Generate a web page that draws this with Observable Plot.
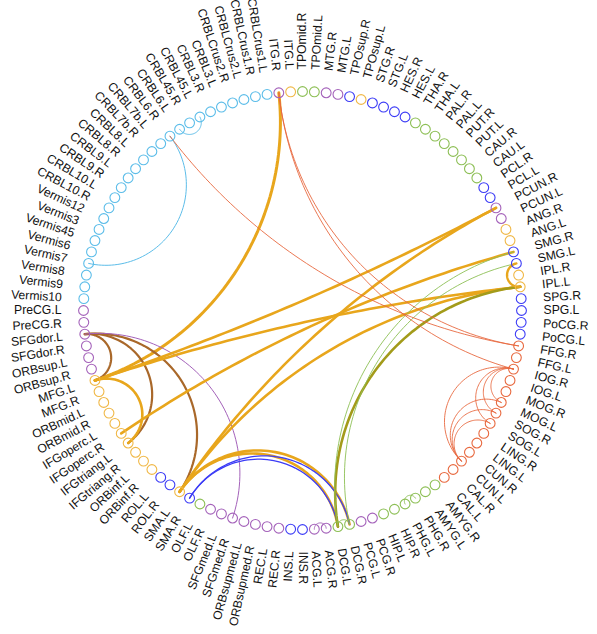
<!DOCTYPE html>
<html><head><meta charset="utf-8">
<script src="https://cdn.jsdelivr.net/npm/d3@7"></script>
<script src="https://cdn.jsdelivr.net/npm/@observablehq/plot@0.6"></script>
<style>body{margin:0;background:#fff}#chart{width:597px;height:634px}</style>
</head><body><div id="chart"></div>
<script>
// Regions in clockwise order (index 0 = ITG.R)
const regions = ["ITG.R","ITG.L","TPOmid.R","TPOmid.L","MTG.R","MTG.L","TPOsup.R","TPOsup.L","STG.R","STG.L","HES.R","HES.L","THA.R","THA.L","PAL.R","PAL.L","PUT.R","PUT.L","CAU.R","CAU.L","PCL.R","PCL.L","PCUN.R","PCUN.L","ANG.R","ANG.L","SMG.R","SMG.L","IPL.R","IPL.L","SPG.R","SPG.L","PoCG.R","PoCG.L","FFG.R","FFG.L","IOG.R","IOG.L","MOG.R","MOG.L","SOG.R","SOG.L","LING.R","LING.L","CUN.R","CUN.L","CAL.R","CAL.L","AMYG.R","AMYG.L","PHG.R","PHG.L","HIP.R","HIP.L","PCG.R","PCG.L","DCG.R","DCG.L","ACG.R","ACG.L","INS.R","INS.L","REC.R","REC.L","ORBsupmed.R","ORBsupmed.L","SFGmed.R","SFGmed.L","OLF.R","OLF.L","SMA.R","SMA.L","ROL.R","ROL.L","ORBinf.R","ORBinf.L","IFGtriang.R","IFGtriang.L","IFGoperc.R","IFGoperc.L","ORBmid.R","ORBmid.L","MFG.R","MFG.L","ORBsup.R","ORBsup.L","SFGdor.R","SFGdor.L","PreCG.R","PreCG.L","Vermis10","Vermis9","Vermis8","Vermis7","Vermis6","Vermis45","Vermis3","Vermis12","CRBL10.R","CRBL10.L","CRBL9.R","CRBL9.L","CRBL8.R","CRBL8.L","CRBL7b.R","CRBL7b.L","CRBL6.R","CRBL6.L","CRBL45.R","CRBL45.L","CRBL3.R","CRBL3.L","CRBLCrus2.R","CRBLCrus2.L","CRBLCrus1.R","CRBLCrus1.L"];

// network membership of each region (same order)
const networks = ["DMN","FPN","SUB","SUB","DMN","DMN","SMN","FPN","SMN","SMN","SMN","SMN","SUB","SUB","SUB","SUB","SUB","SUB","SUB","SUB","SMN","SMN","DMN","DMN","FPN","FPN","SMN","SMN","FPN","FPN","SMN","SMN","SMN","SMN","VIS","VIS","VIS","VIS","VIS","VIS","VIS","VIS","VIS","VIS","VIS","VIS","VIS","VIS","SUB","SUB","SUB","SUB","SUB","SUB","DMN","DMN","SUB","SUB","DMN","DMN","SMN","SMN","DMN","DMN","DMN","DMN","DMN","DMN","DMN","SUB","SMN","FPN","SMN","SMN","FPN","FPN","FPN","FPN","FPN","FPN","FPN","FPN","FPN","FPN","DMN","DMN","DMN","DMN","DMN","DMN","CB","CB","CB","CB","CB","CB","CB","CB","CB","CB","CB","CB","CB","CB","CB","CB","CB","CB","CB","CB","CB","CB","CB","CB","CB","CB"];

const networkNames = ["CB","DMN","FPN","SUB","SMN","VIS"];
const networkColors = ["#5cbde9","#a462ba","#f0b847","#8dbf55","#3c3cf6","#e8693f"];

// connections
const edgeSource = ["ITG.R","SFGdor.L","SFGdor.L","SFGdor.L","SFGdor.L","MFG.L","MFG.L","MFG.L","IFGoperc.R","SMA.L","SMA.L","SMA.L","SMA.L","SMA.R","SMA.R","DCG.L","DCG.L","DCG.L","DCG.R","ACG.L","PHG.L","SMG.L","CRBL6.L","CRBL6.R","CRBL6.R","ITG.R","ITG.R","IOG.R","IOG.R","IOG.R","IOG.R","CUN.L","CUN.L","CUN.L"];
const edgeTarget = ["MFG.L","MFG.L","IFGtriang.L","SMA.L","SFGmed.R","IFGtriang.L","PCUN.R","IPL.L","SMG.R","PCUN.R","IPL.L","DCG.L","DCG.R","DCG.L","DCG.R","DCG.R","IPL.L","SMG.R","SMG.L","ACG.R","PHG.R","IPL.L","CRBL45.L","Vermis7","FFG.R","FFG.R","IOG.R","MOG.L","SOG.R","SOG.L","CUN.L","MOG.L","SOG.R","SOG.L"];
const edgeKind = ["FPN","mixDF","mixDF","mixDF","DMN","FPN","FPN","FPN","FPN","FPN","FPN","FPN","FPN","SMN","SMN","SUB","mixSF","SUB","SUB","DMN","SUB","FPN","CB","CB","VIS","VIS","VIS","VIS","VIS","VIS","VIS","VIS","VIS","VIS"];
const edgeWeight = [3,2.2,2.2,2.2,1,2.6,2.6,2.6,2.6,2.6,2.6,2.6,2.6,1.3,1.3,1,2.6,0.9,0.9,1,1,2.4,1,1,0.9,0.9,0.9,0.9,0.9,0.9,0.9,0.9,0.9,0.9];

const kindNames = ["CB","DMN","FPN","SUB","SMN","VIS","mixDF","mixSF"];
const kindColors = ["#5cbde9","#a462ba","#e8a61c","#8dbf55","#3c3cf6","#e8693f","#a9682a","#a39b1a"];

// ---------- geometry (unit circle) ----------
const N = regions.length;
const step = 360 / N;
const offset = 2; // node index sitting at 12 o'clock
const ang = i => ((i - offset) * step + 360) % 360;
const rad = d => d * Math.PI / 180;
const nodes = regions.map((name, i) => {
  const a = ang(i);
  return {name, i, a, x: Math.sin(rad(a)), y: -Math.cos(rad(a)),
    color: networkColors[networkNames.indexOf(networks[i])]};
});
const labelR = 241 / 219;
nodes.forEach(d => {
  d.lx = labelR * Math.sin(rad(d.a));
  d.ly = -labelR * Math.cos(rad(d.a));
  d.right = d.a <= 180;
  d.rot = d.right ? d.a - 90 : d.a + 90;
});
const byName = new Map(nodes.map(d => [d.name, d]));

// hyperbolic (orthogonal-circle) arc between two boundary points
const edgePts = [];
edgeSource.forEach((s, k) => {
  const A = byName.get(s), B = byName.get(edgeTarget[k]);
  const color = kindColors[kindNames.indexOf(edgeKind[k])];
  let diff = Math.abs(A.a - B.a); if (diff > 180) diff = 360 - diff;
  const h = rad(diff / 2);
  const M = 60;
  if (diff > 179) {
    for (let j = 0; j <= M; j++) { const t = j / M;
      edgePts.push({k, x: A.x + (B.x - A.x) * t, y: A.y + (B.y - A.y) * t, color, w: edgeWeight[k]}); }
    return;
  }
  const c2 = 2 * Math.cos(h) * Math.cos(h);
  const Cx = (A.x + B.x) / c2, Cy = (A.y + B.y) / c2, rho = Math.tan(h);
  const a0 = Math.atan2(A.y - Cy, A.x - Cx), a1 = Math.atan2(B.y - Cy, B.x - Cx);
  let d = a1 - a0; while (d > Math.PI) d -= 2 * Math.PI; while (d < -Math.PI) d += 2 * Math.PI;
  for (let j = 0; j <= M; j++) { const t = a0 + d * j / M;
    edgePts.push({k, x: Cx + rho * Math.cos(t), y: Cy + rho * Math.sin(t), color, w: edgeWeight[k]}); }
});

const R = 219, cx = 302, cy = 310;
const plot = Plot.plot({
  width: 597, height: 634, margin: 0,
  x: {domain: [-1, 1], range: [cx - R, cx + R], axis: null},
  y: {domain: [-1, 1], range: [cy - R, cy + R], axis: null},
  color: {type: "identity"},
  style: {fontFamily: "Liberation Sans, Arial, sans-serif", background: "#fff"},
  marks: [
    Plot.line(edgePts, {x: "x", y: "y", z: "k", stroke: "color", strokeWidth: "w", curve: "linear"}),
    Plot.dot(nodes, {x: "x", y: "y", r: 4.9, stroke: "color", fill: "none", strokeWidth: 1.1}),
    Plot.text(nodes.filter(d => d.right), {x: "lx", y: "ly", text: "name", rotate: "rot", textAnchor: "start", fontSize: 12.2, fill: "#111"}),
    Plot.text(nodes.filter(d => !d.right), {x: "lx", y: "ly", text: "name", rotate: "rot", textAnchor: "end", fontSize: 12.2, fill: "#111"})
  ]
});
document.getElementById("chart").appendChild(plot);
</script>
</body></html>
